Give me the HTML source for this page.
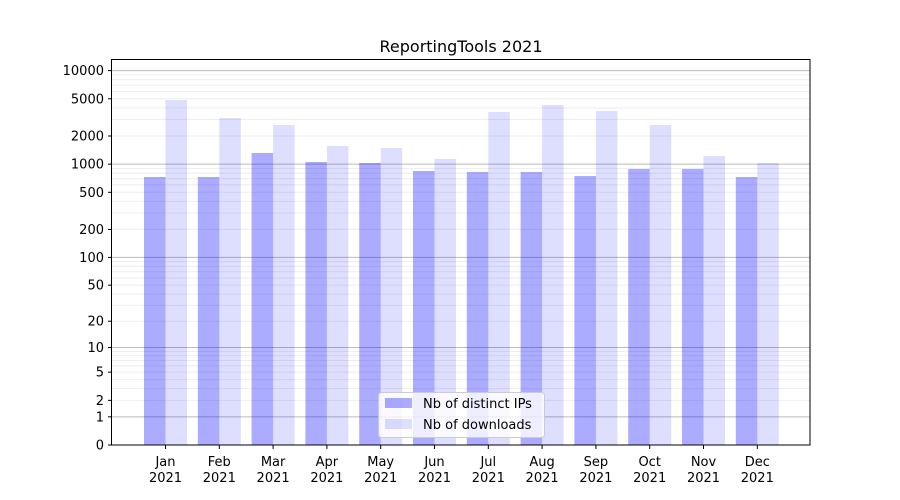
<!DOCTYPE html>
<html><head><meta charset="utf-8"><style>
body{margin:0;background:#fff;}
svg{display:block;font-family:"DejaVu Sans","Liberation Sans",sans-serif;}
</style></head><body>
<svg id="s" width="900" height="500" xmlns="http://www.w3.org/2000/svg">
<rect width="900" height="500" fill="#fff"/>
<g id="grid"></g>
<g id="bars"></g>
<rect x="111.5" y="59.5" width="698.5" height="385.5" fill="none" stroke="#000" stroke-width="1"/>
<g id="ticks" font-size="13" fill="#000"></g>
<text x="461" y="52" font-size="16" text-anchor="middle">ReportingTools 2021</text>
<g>
<rect x="378.5" y="392.5" width="166" height="45" rx="3" fill="#fff" fill-opacity="0.8" stroke="#ccc"/>
<rect x="385" y="398" width="27" height="10" fill="#0000ff" fill-opacity="0.33"/>
<rect x="385" y="419" width="27" height="10" fill="#0000ff" fill-opacity="0.13"/>
<text x="423" y="408" font-size="13">Nb of distinct IPs</text>
<text x="423" y="429" font-size="13">Nb of downloads</text>
</g>
</svg>
<script>
var NS="http://www.w3.org/2000/svg";
function el(p,t,a,txt){var e=document.createElementNS(NS,t);for(var k in a)e.setAttribute(k,a[k]);if(txt!=null)e.textContent=txt;document.getElementById(p).appendChild(e);return e;}
function Y(v){return 445-93.6*Math.log10(v+1);}
for(var d=1;d<=10000;d*=10){
  for(var m=1;m<10;m++){var v=d*m;if(v>12000)break;var y=Y(v);if(y<60)continue;
    el("grid","line",{x1:112,x2:810,y1:y,y2:y,stroke:m==1?"#bbb":"#eee","stroke-width":1});}
}
var ticks=[0,1,2,5,10,20,50,100,200,500,1000,2000,5000,10000];
ticks.forEach(function(v){var y=Y(v);
  el("ticks","line",{x1:108,x2:112,y1:y,y2:y,stroke:"#000"});
  el("ticks","text",{x:104,y:y+4.5,"text-anchor":"end"},String(v));});
var months=["Jan","Feb","Mar","Apr","May","Jun","Jul","Aug","Sep","Oct","Nov","Dec"];
var d1=[177,177,153,162,163,171,172,172,176,169,169,177];
var d2=[100,118,125,146,148,159,112,105,111,125,156,163];
for(var i=0;i<12;i++){var c=165.5+i*53.8;
  el("bars","rect",{x:c-21.5,y:d1[i],width:21.5,height:445-d1[i],fill:"#0000ff","fill-opacity":0.33});
  el("bars","rect",{x:c,y:d2[i],width:21.5,height:445-d2[i],fill:"#0000ff","fill-opacity":0.13});
  el("ticks","line",{x1:c,x2:c,y1:445,y2:449,stroke:"#000"});
  el("ticks","text",{x:c,y:466,"text-anchor":"middle"},months[i]);
  el("ticks","text",{x:c,y:482,"text-anchor":"middle"},"2021");
}
</script>
</body></html>
